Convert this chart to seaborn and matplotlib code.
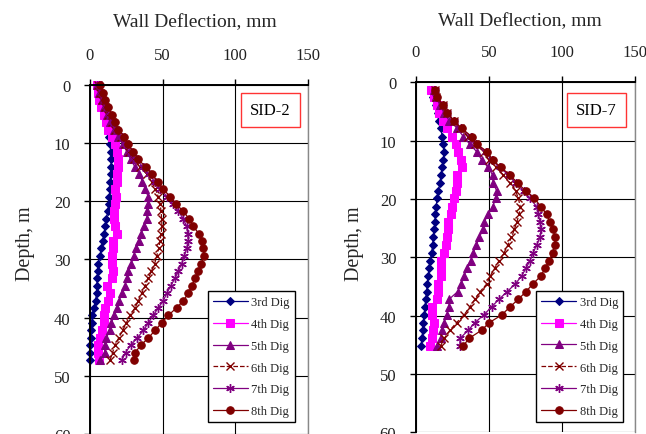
import matplotlib
matplotlib.use("Agg")
import matplotlib.pyplot as plt
import pandas as pd
import seaborn as sns

sns.set_theme(style="white")
plt.rcParams["font.family"] = ["Liberation Serif", "DejaVu Serif"]

stages = ["3rd Dig", "4th Dig", "5th Dig", "6th Dig", "7th Dig", "8th Dig"]

# SID-2 inclinometer: depth (m) and wall deflection (mm) per excavation stage
sid2_depth = [0.0, 1.3, 2.6, 3.8, 5.1, 6.4, 7.7, 8.9, 10.2, 11.5, 12.8, 14.1, 15.3,
              16.6, 17.9, 19.2, 20.4, 21.7, 23.0, 24.3, 25.6, 26.8, 28.1, 29.4,
              30.7, 32.0, 33.2, 34.5, 35.8, 37.1, 38.3, 39.6, 40.9, 42.2, 43.5,
              44.7, 46.0, 47.3]
sid2_3rd = [5, 5.5, 6.5, 8, 9.5, 11, 12.2, 13, 13.8, 14.4, 14.5, 14.5, 14.4, 14,
            13.7, 13.3, 13, 12.2, 11.3, 10.5, 9.6, 8.8, 7.8, 6.8, 5.7, 5.3, 5,
            4.7, 4.5, 3.8, 3, 1.6, 1.2, 0.8, 0.5, 0.1, -0.1, -0.3]
sid2_4th = [4.6, 5.7, 6.2, 7.6, 9.9, 10.8, 12.2, 14.9, 17.2, 18.8, 19.1, 19.1,
            18.8, 18.5, 17.2, 17.7, 17.5, 16.7, 16.5, 17, 18.8, 16, 15.5, 14.9,
            14.9, 15.5, 15, 12, 13.8, 12.2, 10.3, 9.9, 9.9, 8, 6.9, 5.7, 5.3, 6.5]
sid2_5th = [5, 6.5, 8, 9.5, 11.5, 14, 16.5, 19.5, 22.5, 25.5, 28, 31, 34, 36, 38,
            40, 40, 39.5, 39, 37.4, 35.1, 33.7, 31.5, 30, 28.5, 26.4, 25.5, 24,
            22, 20, 18.8, 16.5, 14.8, 13.5, 11.2, 10.5, 10, 6.9]
sid2_6th = [5.5, 7, 8.5, 10.5, 12.5, 15, 17.5, 21, 24, 27, 30.5, 34.5, 39, 42.5,
            45, 47, 48.2, 48.9, 49.3, 49.5, 48.9, 48.2, 47.3, 45.9, 44.5, 42.3,
            40.1, 37.9, 35.6, 33.3, 31, 27.5, 25, 22.5, 19.7, 17.3, 15.5, 13.8]
sid2_7th = [6, 8, 9.5, 11.5, 13.8, 16, 18.5, 22, 25, 28, 32, 36.5, 40.5, 44.5,
            48.5, 53, 57, 60.8, 64.2, 66.5, 67.2, 67.7, 66.5, 64.9, 63.1, 60.8,
            58.5, 55.7, 52.8, 50.5, 47, 43.6, 40.1, 36.7, 32.5, 28, 24.5, 21.8]
sid2_8th = [6.9, 9.2, 10.3, 12.6, 14.9, 17.2, 19.5, 23.6, 26.4, 29.4, 33.3, 38.3,
            42.4, 46.5, 50.5, 55.1, 59, 64.2, 68.1, 71.1, 75, 76.9, 78, 78.5,
            76.5, 74.5, 72.5, 70, 67.7, 64.2, 59.6, 53.9, 49.3, 44.7, 40.1, 35.1,
            31, 30.5]

# SID-7 inclinometer
sid7_depth = [1.3, 2.6, 3.9, 5.3, 6.6, 7.9, 9.3, 10.6, 11.9, 13.3, 14.6, 15.9,
              17.3, 18.6, 19.9, 21.3, 22.6, 23.9, 25.2, 26.6, 27.9, 29.2, 30.6,
              31.9, 33.2, 34.6, 35.9, 37.2, 38.5, 39.9, 41.2, 42.5, 43.9, 45.2]
sid7_3rd = [11.6, 12, 13.9, 15, 15.7, 17.1, 18.2, 18.9, 19.3, 19, 18, 17.3, 16.6,
            15.5, 14.8, 13.9, 13.4, 13.2, 12.8, 12, 11.6, 10.9, 9.8, 9.1, 8.6,
            7.9, 7.5, 6.8, 6.4, 5.7, 5.2, 4.8, 4.3, 3.6]
sid7_4th = [10.5, 12.5, 14.3, 16.1, 18.9, 21.6, 25, 27.6, 28.7, 30.8, 31.4, 28,
            28.4, 27.6, 26.4, 25, 23.9, 22.3, 22.3, 21.6, 20.7, 19.6, 17.3, 17.1,
            17.1, 15.5, 15.5, 14.8, 10.9, 11.4, 12.8, 11.6, 11.4, 9.8]
sid7_5th = [12.5, 14, 16.5, 19.5, 23, 28.5, 32.5, 37, 41.7, 45.1, 49.6, 52.6, 53,
            55.4, 54.9, 52.6, 49.7, 47, 46, 43.5, 41.5, 39.4, 37.5, 34.9, 33.2,
            31, 28.7, 22.8, 22.8, 21.2, 19.3, 17.8, 17.3, 14.8]
sid7_6th = [13, 14, 18.5, 21.5, 26, 30.5, 36, 40.5, 47, 50, 55, 60, 64.5, 68.3,
            70.2, 71.5, 70.8, 69.2, 67.5, 65.5, 63, 60.5, 57, 54, 51, 48.5, 44,
            40.5, 37.1, 33, 28, 23.4, 19.5, 17]
sid7_7th = [13, 14, 18.5, 21.5, 26, 31, 37.5, 41, 48, 52, 57.5, 63.5, 68.5, 74,
            78.1, 82.7, 83.8, 85, 85.7, 85, 82.7, 80.4, 78.1, 75.4, 72.5, 68,
            62.5, 57, 51.9, 46.5, 40.5, 36, 30.3, 30.3]
sid7_8th = [13.2, 14.3, 18.9, 21.6, 26.2, 31.4, 38.3, 41.7, 49, 52.6, 58.3, 64.5,
            69.7, 75.2, 81.2, 85.6, 89.5, 91.8, 94.1, 95.2, 95.2, 93.6, 91.3,
            88.4, 85.7, 80, 75.4, 70.2, 64.5, 58.8, 50.3, 45.1, 36.5, 32.5]

x_ticks = [0, 50, 100, 150]
y_ticks = [0, 10, 20, 30, 40, 50, 60]

line_styles = {
    "3rd Dig": dict(color="#000080", marker="D", markersize=3.8, linestyle="-"),
    "4th Dig": dict(color="#FF00FF", marker="s", markersize=5.4, linestyle="-"),
    "5th Dig": dict(color="#800080", marker="^", markersize=5.8, linestyle="-"),
    "6th Dig": dict(color="#800000", marker="x", markersize=5.2, linestyle="--",
                    markeredgewidth=1.0),
    "7th Dig": dict(color="#800080", marker=(6, 2, 0), markersize=6.2,
                    linestyle="-", markeredgewidth=1.0),
    "8th Dig": dict(color="#800000", marker="o", markersize=5.4, linestyle="-"),
}


def long_table(depth, series):
    frames = []
    for stage, values in zip(stages, series):
        frames.append(pd.DataFrame({"Deflection": values, "Depth": depth,
                                    "Stage": stage}))
    return pd.concat(frames, ignore_index=True)


panels = [
    dict(name="SID-2", table=long_table(sid2_depth, [sid2_3rd, sid2_4th, sid2_5th,
                                                     sid2_6th, sid2_7th, sid2_8th]),
         rect=[0.1393, 0.0, 0.3375, 0.8023], title_xy=(0.480, 1.183),
         ylab_xy=(-0.298, 0.547), box_xy=(0.826, 0.928), leg_xy=(0.940, 0.034)),
    dict(name="SID-7", table=long_table(sid7_depth, [sid7_3rd, sid7_4th, sid7_5th,
                                                     sid7_6th, sid7_7th, sid7_8th]),
         rect=[0.6435, 0.004, 0.3395, 0.8046], title_xy=(0.4756, 1.176),
         ylab_xy=(-0.277, 0.541), box_xy=(0.8235, 0.921), leg_xy=(0.9466, 0.029)),
]

fig = plt.figure(figsize=(6.46, 4.35), dpi=100)

for p in panels:
    ax = fig.add_axes(p["rect"])
    df = p["table"]
    for stage in stages:
        sub = df[df["Stage"] == stage]
        st = line_styles[stage]
        sns.lineplot(data=sub, x="Deflection", y="Depth", estimator=None,
                     sort=False, ax=ax, label=stage, linewidth=0.9,
                     clip_on=False, markeredgecolor=st["color"], **st)

    ax.set_xlim(0, 150)
    ax.set_ylim(60, 0)
    ax.set_xticks(x_ticks)
    ax.set_yticks(y_ticks)
    ax.xaxis.tick_top()
    ax.xaxis.set_label_position("top")
    ax.grid(True, color="black", linewidth=0.8)
    ax.set_axisbelow(True)
    ax.tick_params(axis="both", direction="out", length=4, width=1,
                   color="black", labelsize=12, labelcolor="#222222")
    ax.tick_params(axis="x", pad=12, top=True, bottom=False)
    ax.tick_params(axis="y", pad=10, left=True)

    for side in ["left", "top"]:
        ax.spines[side].set_color("black")
        ax.spines[side].set_linewidth(1.4)
    ax.spines["right"].set_color("#888888")
    ax.spines["right"].set_linewidth(1.0)
    ax.spines["bottom"].set_visible(False)

    ax.set_xlabel("Wall Deflection, mm", fontsize=14, va="center", ha="center")
    ax.xaxis.set_label_coords(*p["title_xy"])
    ax.set_ylabel("Depth, m", fontsize=14.5, va="center", ha="center")
    ax.yaxis.set_label_coords(*p["ylab_xy"])

    ax.text(*p["box_xy"], p["name"], transform=ax.transAxes, ha="center",
            va="center", fontsize=12, color="black",
            bbox=dict(boxstyle="square,pad=0.55", fc="white", ec="#FF3333", lw=1.0))

    handles, labels = ax.get_legend_handles_labels()
    leg = ax.legend(handles, labels, loc="lower right", bbox_to_anchor=p["leg_xy"],
                    fontsize=9, frameon=True, fancybox=False, framealpha=1,
                    edgecolor="black", borderpad=0.4, labelspacing=0.78,
                    handlelength=2.8, handletextpad=0.3, borderaxespad=0)
    leg.get_frame().set_linewidth(1.0)

fig.savefig("out.png", dpi=100)
